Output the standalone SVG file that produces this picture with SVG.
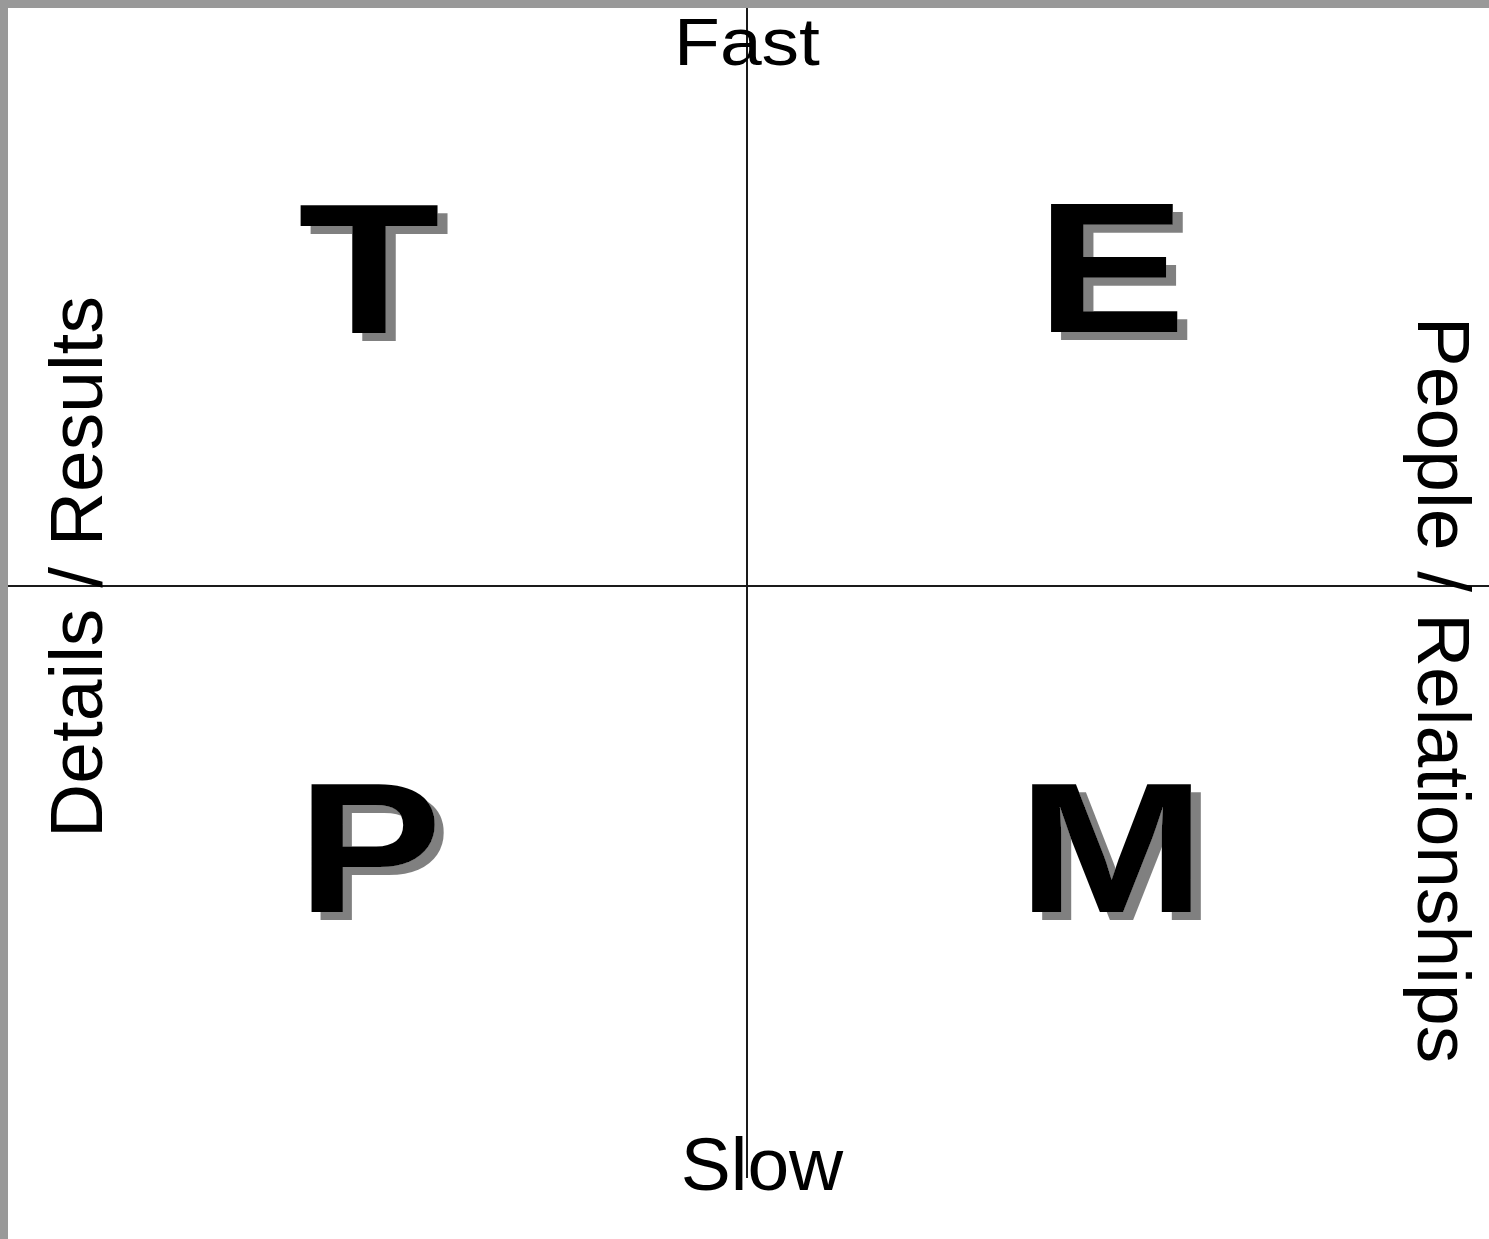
<svg xmlns="http://www.w3.org/2000/svg" width="1489" height="1239" viewBox="0 0 1489 1239">
<style>
.lbl{font-family:"Liberation Sans",Arial,sans-serif;font-size:75px;fill:#000;text-anchor:middle}
.big{font-family:"Liberation Sans",Arial,sans-serif;font-size:186px;font-weight:bold;text-anchor:middle;fill:#000;filter:url(#shadow)}
.axis{stroke:#1a1a1a;stroke-width:2;fill:none}
</style>
<defs>
<filter id="shadow" x="-20%" y="-20%" width="150%" height="150%">
<feFlood flood-color="#808080" result="c"/>
<feComposite in="c" in2="SourceAlpha" operator="in" result="s"/>
<feOffset in="s" dx="8" dy="8" result="o"/>
<feMerge><feMergeNode in="o"/><feMergeNode in="SourceGraphic"/></feMerge>
</filter>
</defs>
<rect x="0" y="0" width="1489" height="1239" fill="#999999"/>
<rect x="8" y="8" width="1481" height="1231" fill="#ffffff"/>
<g id="connectors">
<line class="axis" x1="747" y1="8" x2="747" y2="1178"/>
<line class="axis" x1="8" y1="586" x2="1489" y2="586"/>
</g>
<g id="fast"><text class="lbl" transform="translate(747,65) scale(1,0.89)">Fast</text></g>
<g id="slow"><text class="lbl" x="762" y="1190">Slow</text></g>
<g id="details"><text class="lbl" transform="translate(102,567) rotate(-90)">Details / Results</text></g>
<g id="people"><text class="lbl" transform="translate(1418,690) rotate(90)">People / Relationships</text></g>
<g id="T"><text class="big" transform="translate(369,333) scale(1.25,1)">T</text></g>
<g id="E"><text class="big" transform="translate(1111,332) scale(1.21,1)">E</text></g>
<g id="P"><text class="big" transform="translate(369.5,912) scale(1.17,1)">P</text></g>
<g id="M"><text class="big" transform="translate(1111.5,912) scale(1.22,1)">M</text></g>
</svg>
